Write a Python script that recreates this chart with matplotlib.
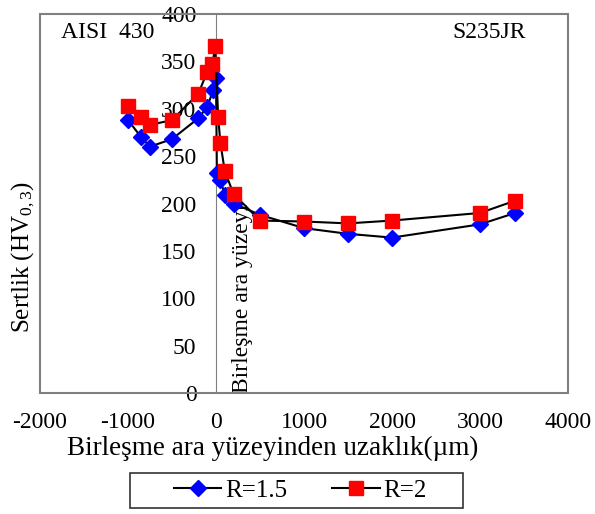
import matplotlib.pyplot as plt
from matplotlib.patches import Rectangle

plt.rcParams['font.family'] = ['Liberation Serif', 'DejaVu Serif']
plt.rcParams['mathtext.fontset'] = 'custom'
plt.rcParams['mathtext.rm'] = 'Liberation Serif'
plt.rcParams['mathtext.it'] = 'Liberation Serif'
plt.rcParams['axes.unicode_minus'] = False

# Veriler (okunan değerler)
x_r15 = [-1000, -850, -750, -500, -200, -100, -30, 0, 10, 50, 100, 200, 500, 1000, 1500, 2000, 3000, 3400]
y_r15 = [288, 270, 260, 268, 290, 302, 320, 332, 232, 225, 209, 200, 188, 174, 168, 164, 178, 190]
x_r2 = [-1000, -850, -750, -500, -200, -100, -40, -10, 25, 50, 100, 200, 500, 1000, 1500, 2000, 3000, 3400]
y_r2 = [303, 291, 283, 288, 316, 339, 347, 366, 291, 264, 234, 210, 182, 181, 179, 182, 190, 203]
x_ticks = [-2000, -1000, 0, 1000, 2000, 3000, 4000]
y_ticks = [0, 50, 100, 150, 200, 250, 300, 350, 400]

gray = '#808080'
fs = 17

fig = plt.figure(figsize=(5.95, 5.14), dpi=100)
ax = fig.add_axes([40/595, 1-393/514, 528/595, 379/514])

ax.plot(x_r15, y_r15, color='black', lw=1.5, marker='D', ms=8.5,
        mfc='#0000FF', mec='#0000FF', label='R=1.5', zorder=3)
ax.plot(x_r2, y_r2, color='black', lw=1.5, marker='s', ms=9.5,
        mfc='#FF0000', mec='#FF0000', label='R=2', zorder=4)

ax.set_xlim(-2000, 4000)
ax.set_ylim(0, 400)
ax.set_xticks(x_ticks)
ax.set_yticks(y_ticks)
ax.tick_params(length=0, labelsize=fs)
ax.tick_params(axis='x', pad=14)
ax.tick_params(axis='y', pad=14)

# y ekseni x=0'da, çerçeve ayrıca
ax.spines['left'].set_position(('data', 0))
ax.spines['left'].set_color(gray)
for s in ['top', 'right', 'bottom']:
    ax.spines[s].set_visible(False)
ax.add_patch(Rectangle((0, 0), 1, 1, transform=ax.transAxes, fill=False,
                       edgecolor=gray, lw=1.5, clip_on=False, zorder=5))

ax.set_xlabel('Birleşme ara yüzeyinden uzaklık(µm)', fontsize=19.5)
ax.set_ylabel('Sertlik (HV$_{0,3}$)', fontsize=18)
ax.xaxis.set_label_coords(0.441, -0.113)
ax.yaxis.set_label_coords(-0.006, 0.36)

ax.text(0.04, 0.95, 'AISI  430', transform=ax.transAxes, fontsize=fs, va='center', ha='left')
ax.text(0.92, 0.95, 'S235JR', transform=ax.transAxes, fontsize=fs, va='center', ha='right')
ax.text(300, 0, 'Birleşme ara yüzeyi', rotation=90, ha='center', va='bottom',
        fontsize=fs, zorder=1)

# lejant (çerçeve ayrı çizildi)
fig.legend(loc='center', bbox_to_anchor=(0.505, 0.046), ncol=2, fontsize=18,
           frameon=False, handlelength=1.9, columnspacing=1.8,
           handletextpad=0.15, borderpad=0.2)
fig.patches.append(Rectangle((130/595, 1-508/514), 333/595, 35/514,
                             transform=fig.transFigure, fill=False,
                             edgecolor='#333333', lw=1.2))

plt.savefig('out.png', dpi=100)
